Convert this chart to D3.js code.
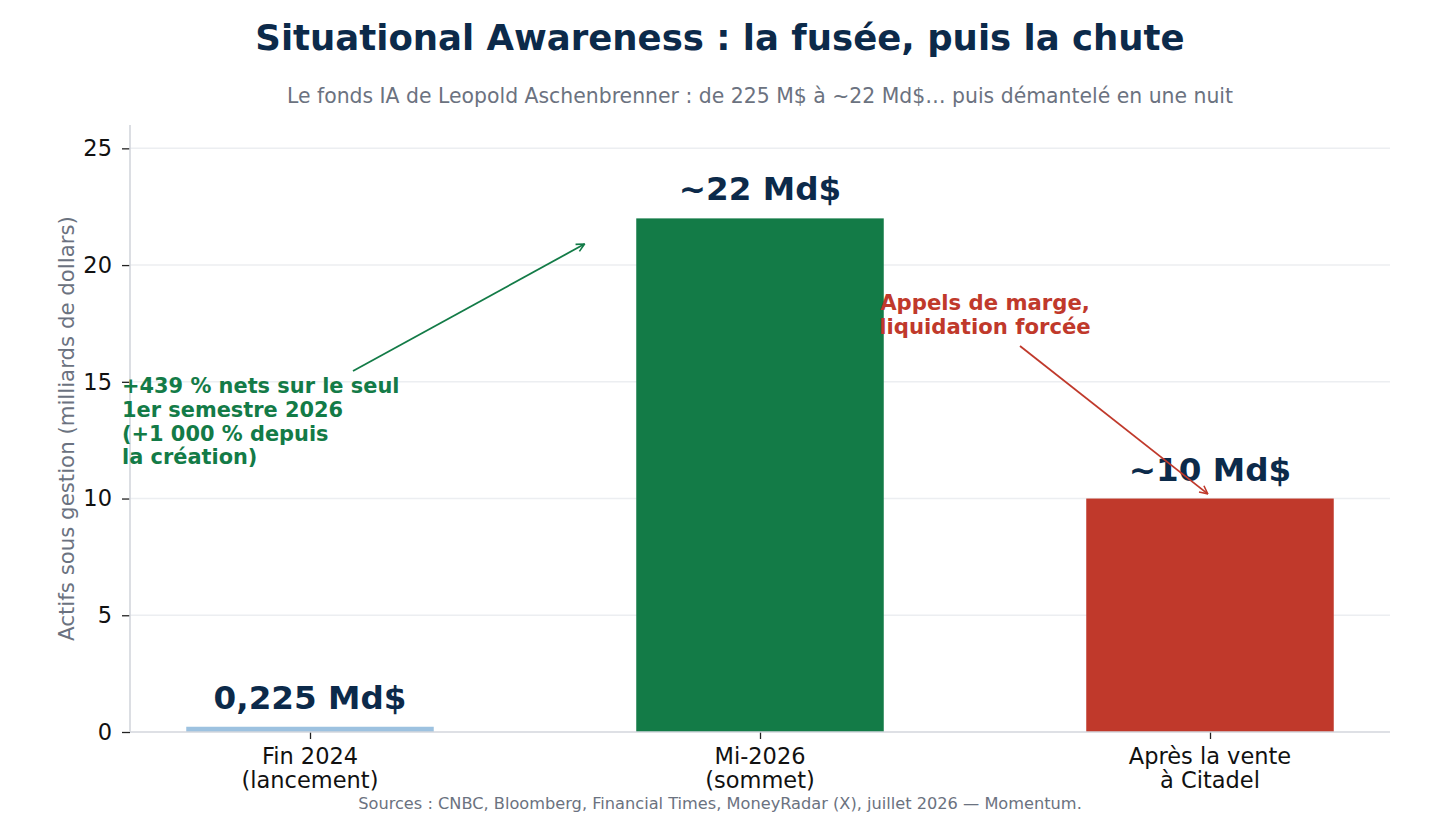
<!DOCTYPE html>
<html>
<head>
<meta charset="utf-8">
<script src="https://cdn.jsdelivr.net/npm/d3@7"></script>
<style>
  body { margin: 0; background: #fff; }
  svg { display: block; font-family: "DejaVu Sans", sans-serif; }
</style>
</head>
<body>
<svg id="chart" width="1440" height="832"></svg>
<script>
// chart data
const categories = [["Fin 2024", "(lancement)"], ["Mi-2026", "(sommet)"], ["Après la vente", "à Citadel"]];
const values = [0.225, 22, 10];
const valueLabels = ["0,225 Md$", "~22 Md$", "~10 Md$"];
const barColors = ["#9dc2e0", "#137b47", "#c0392b"];
const yTicks = [0, 5, 10, 15, 20, 25];

// annotations: text lines
const greenNote = ["+439 % nets sur le seul", "1er semestre 2026", "(+1 000 % depuis", "la création)"];
const redNote = ["Appels de marge,", "liquidation forcée"];

const W = 1440, H = 832;
const margin = { top: 125, right: 50, bottom: 100, left: 130 };
const svg = d3.select('#chart');

const x = d3.scaleLinear().domain([-0.4, 2.4]).range([margin.left, W - margin.right]);
const y = d3.scaleLinear().domain([0, 26]).range([H - margin.bottom, margin.top]);
const barW = x(0.55) - x(0);

svg.append('defs').selectAll('marker')
    .data([['arrGreen', '#137b47'], ['arrRed', '#c0392b']])
    .join('marker')
    .attr('id', d => d[0])
    .attr('viewBox', '0 0 10 10')
    .attr('refX', 9).attr('refY', 5)
    .attr('markerWidth', 10).attr('markerHeight', 10)
    .attr('markerUnits', 'userSpaceOnUse')
    .attr('orient', 'auto')
    .append('path')
    .attr('d', 'M1,1 L9,5 L1,9')
    .attr('fill', 'none')
    .attr('stroke', d => d[1])
    .attr('stroke-width', 1.6);

// grid
svg.append('g')
    .selectAll('line')
    .data(yTicks.filter(t => t > 0))
    .join('line')
    .attr('x1', margin.left).attr('x2', W - margin.right)
    .attr('y1', d => y(d)).attr('y2', d => y(d))
    .attr('stroke', '#eceef1').attr('stroke-width', 1.5);

// bars
svg.append('g')
    .selectAll('rect')
    .data(values)
    .join('rect')
    .attr('x', (d, i) => x(i) - barW / 2)
    .attr('width', barW)
    .attr('y', d => y(d))
    .attr('height', d => y(0) - y(d))
    .attr('fill', (d, i) => barColors[i]);

// value labels
svg.append('g')
    .selectAll('text')
    .data(values)
    .join('text')
    .attr('x', (d, i) => x(i))
    .attr('y', d => y(d) - 18)
    .attr('text-anchor', 'middle')
    .attr('font-size', 32.6)
    .attr('font-weight', 'bold')
    .attr('fill', '#0c2a4a')
    .text((d, i) => valueLabels[i]);

// axes
const yAxis = svg.append('g')
    .attr('transform', `translate(${margin.left},0)`)
    .call(d3.axisLeft(y).tickValues(yTicks).tickSize(8).tickPadding(10));
yAxis.select('.domain').remove();
yAxis.selectAll('.tick line').attr('stroke', '#222').attr('stroke-width', 1.3);
yAxis.selectAll('.tick text').attr('font-size', 22.5).attr('fill', '#111').attr('font-family', 'DejaVu Sans');

const xAxis = svg.append('g')
    .attr('transform', `translate(0,${y(0)})`)
    .call(d3.axisBottom(x).tickValues([0, 1, 2]).tickSize(7).tickFormat(''));
xAxis.select('.domain').remove();
xAxis.selectAll('.tick line').attr('stroke', '#222').attr('stroke-width', 1.3);

svg.append('g')
    .selectAll('text')
    .data(categories)
    .join('text')
    .attr('x', (d, i) => x(i))
    .attr('y', y(0) + 32)
    .attr('text-anchor', 'middle')
    .attr('font-size', 22.5)
    .attr('fill', '#111')
    .selectAll('tspan')
    .data(d => d)
    .join('tspan')
    .attr('x', function() { return d3.select(this.parentNode).attr('x'); })
    .attr('dy', (d, i) => i === 0 ? 0 : 23.5)
    .text(d => d);

// spines
svg.append('line')
    .attr('x1', margin.left).attr('x2', margin.left)
    .attr('y1', margin.top).attr('y2', y(0))
    .attr('stroke', '#d3d6dc').attr('stroke-width', 1.6);
svg.append('line')
    .attr('x1', margin.left).attr('x2', W - margin.right)
    .attr('y1', y(0)).attr('y2', y(0))
    .attr('stroke', '#d3d6dc').attr('stroke-width', 1.6);

// y label
svg.append('text')
    .attr('transform', `translate(74,${(margin.top + y(0)) / 2}) rotate(-90)`)
    .attr('text-anchor', 'middle')
    .attr('font-size', 21.3)
    .attr('fill', '#6b7280')
    .text('Actifs sous gestion (milliards de dollars)');

// green annotation
const gNote = svg.append('text')
    .attr('x', 122).attr('y', 393)
    .attr('font-size', 20.9).attr('font-weight', 'bold').attr('fill', '#137b47');
gNote.selectAll('tspan').data(greenNote).join('tspan')
    .attr('x', 122).attr('dy', (d, i) => i === 0 ? 0 : 23.8).text(d => d);
svg.append('line')
    .attr('x1', 353).attr('y1', 371)
    .attr('x2', x(0.61)).attr('y2', y(20.9))
    .attr('stroke', '#137b47').attr('stroke-width', 1.8)
    .attr('marker-end', 'url(#arrGreen)');

// red annotation
const rNote = svg.append('text')
    .attr('x', 985).attr('y', 310)
    .attr('text-anchor', 'middle')
    .attr('font-size', 21.2).attr('font-weight', 'bold').attr('fill', '#c0392b');
rNote.selectAll('tspan').data(redNote).join('tspan')
    .attr('x', 985).attr('dy', (d, i) => i === 0 ? 0 : 24).text(d => d);
svg.append('line')
    .attr('x1', 1020).attr('y1', 346)
    .attr('x2', x(1.995)).attr('y2', y(10.2))
    .attr('stroke', '#c0392b').attr('stroke-width', 1.8)
    .attr('marker-end', 'url(#arrRed)');

// titles
svg.append('text')
    .attr('x', W / 2).attr('y', 50)
    .attr('text-anchor', 'middle')
    .attr('font-size', 35.5).attr('font-weight', 'bold').attr('fill', '#0c2a4a')
    .text('Situational Awareness : la fusée, puis la chute');
svg.append('text')
    .attr('x', (margin.left + W - margin.right) / 2).attr('y', 103)
    .attr('text-anchor', 'middle')
    .attr('font-size', 20.4).attr('fill', '#6b7280')
    .text('Le fonds IA de Leopold Aschenbrenner : de 225 M$ à ~22 Md$… puis démantelé en une nuit');
svg.append('text')
    .attr('x', W / 2).attr('y', 809)
    .attr('text-anchor', 'middle')
    .attr('font-size', 16.2).attr('fill', '#6b7280')
    .text('Sources : CNBC, Bloomberg, Financial Times, MoneyRadar (X), juillet 2026 — Momentum.');
</script>
</body>
</html>
